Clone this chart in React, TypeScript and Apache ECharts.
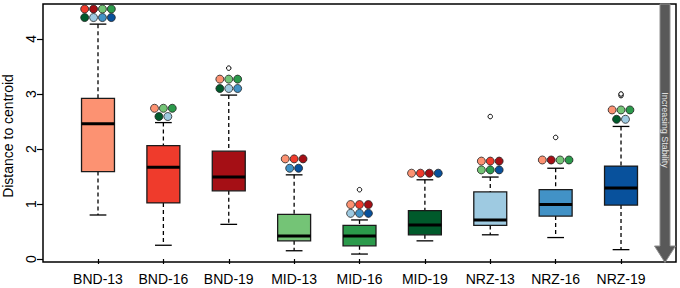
import React, { useEffect, useRef } from "react";
import * as echarts from "echarts";

const categories = ["BND-13", "BND-16", "BND-19", "MID-13", "MID-16", "MID-19", "NRZ-13", "NRZ-16", "NRZ-19"];
const palette = ["#FC9272", "#EF3B2C", "#A50F15", "#74C476", "#2B9A4B", "#005A2B", "#9ECAE1", "#4292C6", "#08519C"];

const whiskerLow = [0.8, 0.25, 0.63, 0.15, 0.09, 0.33, 0.44, 0.39, 0.17];
const q1 = [1.59, 1.02, 1.24, 0.33, 0.24, 0.44, 0.61, 0.78, 0.98];
const median = [2.46, 1.67, 1.49, 0.42, 0.42, 0.62, 0.71, 0.99, 1.29];
const q3 = [2.92, 2.06, 1.96, 0.81, 0.61, 0.88, 1.22, 1.26, 1.69];
const whiskerHigh = [4.27, 2.48, 2.98, 1.53, 0.71, 1.44, 1.49, 1.65, 2.41];

// [category number (1-based), value]
const outliers: [number, number][] = [
  [3, 3.47],
  [5, 1.26],
  [7, 2.59],
  [8, 2.21],
  [9, 2.97],
  [9, 3.0],
];

// significance dot rows: category number, y value, group indices (colours)
const sigRows: { cat: number; y: number; groups: number[] }[] = [
  { cat: 1, y: 4.545, groups: [1, 2, 3, 4] },
  { cat: 1, y: 4.39, groups: [5, 6, 7, 8] },
  { cat: 2, y: 2.74, groups: [0, 3, 4] },
  { cat: 2, y: 2.59, groups: [5, 6] },
  { cat: 3, y: 3.27, groups: [0, 3, 4] },
  { cat: 3, y: 3.1, groups: [5, 6, 7] },
  { cat: 4, y: 1.82, groups: [0, 1, 2] },
  { cat: 4, y: 1.65, groups: [7, 8] },
  { cat: 5, y: 0.99, groups: [0, 1, 2] },
  { cat: 5, y: 0.83, groups: [6, 7, 8] },
  { cat: 6, y: 1.56, groups: [0, 1, 2, 8] },
  { cat: 7, y: 1.78, groups: [0, 1, 2] },
  { cat: 7, y: 1.62, groups: [3, 4, 8] },
  { cat: 8, y: 1.8, groups: [0, 2, 3, 4] },
  { cat: 9, y: 2.71, groups: [0, 3, 4] },
  { cat: 9, y: 2.54, groups: [5, 6] },
];

const yTicks = [0, 1, 2, 3, 4];
const xTicks = [1, 2, 3, 4, 5, 6, 7, 8, 9];

const FONT = "Liberation Sans, Arial, Helvetica, sans-serif";

export default function App() {
  const ref = useRef<HTMLDivElement>(null);
  useEffect(() => {
    if (!ref.current) return;
    const chart = echarts.init(ref.current, null, { renderer: "svg" });

    const boxData = categories.map((_, i) => [i + 1, whiskerLow[i], q1[i], median[i], q3[i], whiskerHigh[i]]);
    const DOT_STEP = 0.136;
    const dotData: any[] = [];
    sigRows.forEach((r) => {
      const n = r.groups.length;
      r.groups.forEach((g, k) => {
        dotData.push({ value: [r.cat + (k - (n - 1) / 2) * DOT_STEP, r.y], itemStyle: { color: palette[g] } });
      });
    });

    const option: any = {
      animation: false,
      backgroundColor: "#fff",
      textStyle: { fontFamily: FONT },
      grid: {
        left: 43,
        top: 4,
        width: 633,
        height: 258,
        show: true,
        borderColor: "#000",
        borderWidth: 1.5,
        backgroundColor: "transparent",
      },
      xAxis: {
        type: "value",
        min: 0.1587,
        max: 9.841,
        splitLine: { show: false },
        axisLine: { show: false },
        axisTick: { show: true, customValues: xTicks, length: 5, lineStyle: { color: "#000", width: 1.2 } },
        axisLabel: {
          customValues: xTicks,
          formatter: (v: number) => categories[Math.round(v) - 1] ?? "",
          fontSize: 14,
          color: "#000",
          margin: 10,
          fontFamily: FONT,
        },
      },
      yAxis: {
        type: "value",
        min: -0.0545,
        max: 4.636,
        splitLine: { show: false },
        axisLine: { show: false },
        axisTick: { show: true, customValues: yTicks, length: 6, lineStyle: { color: "#000", width: 1.2 } },
        axisLabel: {
          customValues: yTicks,
          rotate: 90,
          fontSize: 14,
          color: "#000",
          margin: 5,
          fontFamily: FONT,
        },
      },
      graphic: [
        {
          type: "text",
          x: 8,
          y: 136,
          rotation: Math.PI / 2,
          style: {
            text: "Distance to centroid",
            fontSize: 14,
            fontFamily: FONT,
            fill: "#000",
            align: "center",
            verticalAlign: "middle",
          },
        },
        {
          type: "polygon",
          shape: {
            points: [
              [660, 4],
              [670, 4],
              [670, 246],
              [675.5, 246],
              [665, 262.5],
              [654.5, 246],
              [660, 246],
            ],
          },
          style: { fill: "#595959", stroke: "#8f8f8f", lineWidth: 1 },
          z: 10,
        },
        {
          type: "text",
          x: 665,
          y: 130,
          rotation: -Math.PI / 2,
          style: {
            text: "Increasing Stability",
            fontSize: 9,
            fontFamily: FONT,
            fill: "#e6e6e6",
            align: "center",
            verticalAlign: "middle",
          },
          z: 11,
        },
      ],
      series: [
        {
          type: "custom",
          data: boxData,
          encode: { x: 0, y: [1, 2, 3, 4, 5] },
          renderItem: (params: any, api: any) => {
            const x = api.value(0);
            const lo = api.value(1);
            const b1 = api.value(2);
            const md = api.value(3);
            const b3 = api.value(4);
            const hi = api.value(5);
            const hw = 0.252;
            const cw = 0.128;
            const pTopL = api.coord([x - hw, b3]);
            const pBotR = api.coord([x + hw, b1]);
            const pc = (v: number) => api.coord([x, v]);
            const cap = (v: number) => {
              const a = api.coord([x - cw, v]);
              const b = api.coord([x + cw, v]);
              return { type: "line", shape: { x1: a[0], y1: a[1], x2: b[0], y2: b[1] }, style: { stroke: "#000", lineWidth: 1.3 } };
            };
            const ml = api.coord([x - hw, md]);
            const mr = api.coord([x + hw, md]);
            const color = palette[params.dataIndex];
            return {
              type: "group",
              children: [
                {
                  type: "line",
                  shape: { x1: pc(hi)[0], y1: pc(hi)[1], x2: pc(b3)[0], y2: pc(b3)[1] },
                  style: { stroke: "#000", lineWidth: 1.3, lineDash: [4, 3] },
                },
                {
                  type: "line",
                  shape: { x1: pc(b1)[0], y1: pc(b1)[1], x2: pc(lo)[0], y2: pc(lo)[1] },
                  style: { stroke: "#000", lineWidth: 1.3, lineDash: [4, 3] },
                },
                cap(hi),
                cap(lo),
                {
                  type: "rect",
                  shape: { x: pTopL[0], y: pTopL[1], width: pBotR[0] - pTopL[0], height: pBotR[1] - pTopL[1] },
                  style: { fill: color, stroke: "#1a1a1a", lineWidth: 1.3 },
                },
                {
                  type: "line",
                  shape: { x1: ml[0], y1: ml[1], x2: mr[0], y2: mr[1] },
                  style: { stroke: "#000", lineWidth: 3 },
                },
              ],
            };
          },
          z: 2,
        },
        {
          type: "scatter",
          data: outliers,
          symbol: "circle",
          symbolSize: 4.5,
          itemStyle: { color: "#fff", borderColor: "#000", borderWidth: 1, opacity: 1 },
          z: 3,
        },
        {
          type: "scatter",
          data: dotData,
          symbol: "circle",
          symbolSize: 8,
          itemStyle: { borderColor: "#222", borderWidth: 0.8, opacity: 1 },
          z: 4,
        },
      ],
    };
    chart.setOption(option);
    return () => chart.dispose();
  }, []);
  return <div ref={ref} style={{ position: "fixed", left: 0, top: 0, width: 680, height: 288 }} />;
}
